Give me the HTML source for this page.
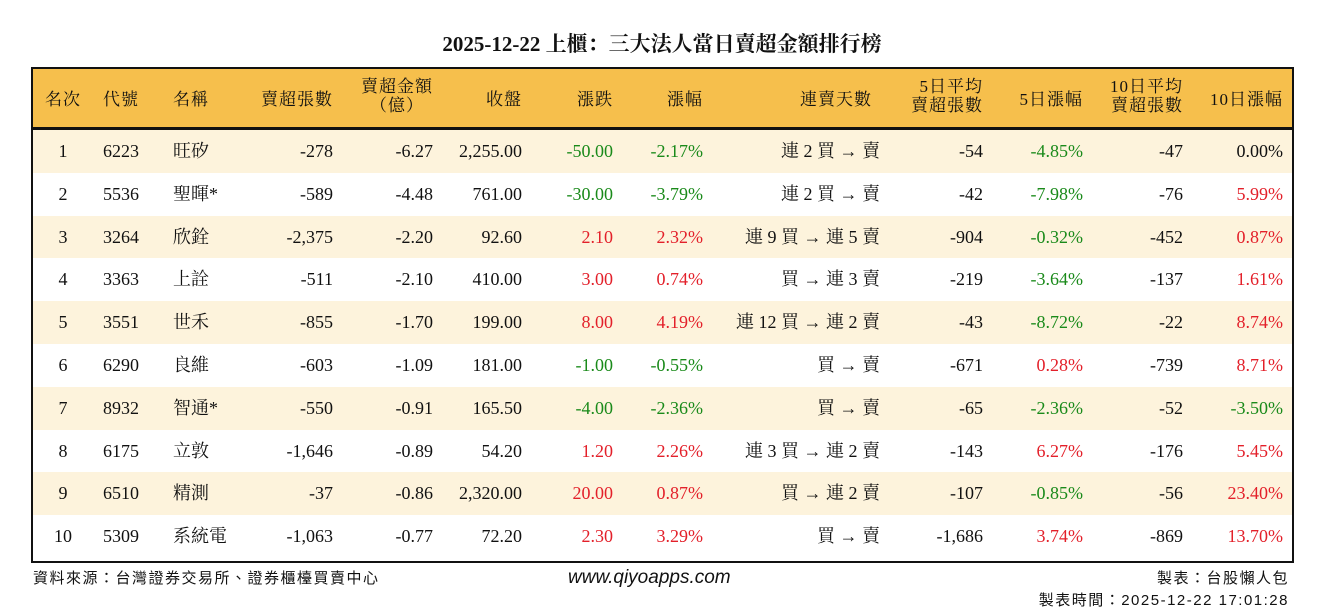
<!DOCTYPE html>
<html><head><meta charset="utf-8"><style>
*{margin:0;padding:0;box-sizing:border-box}
body{width:1324px;height:612px;background:#fff;font-family:"Liberation Serif","Noto Serif CJK SC","Noto Sans CJK TC",serif;color:#111;position:relative;overflow:hidden}
.t{position:absolute;white-space:nowrap}
#title{left:0;width:1324px;top:28px;text-align:center;font-size:21px;font-weight:bold}
#box{position:absolute;left:31px;top:67px;width:1263px;height:496px;border:2px solid #111;overflow:hidden}
#hdr{position:absolute;left:0;top:0;width:1259px;height:61px;background:#f6bf4c;border-bottom:3px solid #111}
.row{position:absolute;left:0;width:1259px;height:43px}
.c{position:absolute;font-size:18px;line-height:43px;white-space:nowrap}
.h{position:absolute;font-size:17px;line-height:19px;white-space:nowrap;text-align:right;letter-spacing:1px}
.g{color:#1a8a1a}.r{color:#e3202a}
.f{font-family:"Liberation Sans","Noto Sans CJK TC",sans-serif;font-size:15px;letter-spacing:1.5px}
</style></head><body>
<div class="t" id="title">2025-12-22 上櫃：三大法人當日賣超金額排行榜</div>
<div id="box">
<div id="hdr">
<div class="h" style="left:12px;top:21px">名次</div>
<div class="h" style="left:70px;top:21px">代號</div>
<div class="h" style="left:140px;top:21px">名稱</div>
<div class="h" style="right:959px;top:21px">賣超張數</div>
<div class="h" style="right:859px;top:8px;text-align:center">賣超金額<br>（億）</div>
<div class="h" style="right:770px;top:21px">收盤</div>
<div class="h" style="right:679px;top:21px">漲跌</div>
<div class="h" style="right:589px;top:21px">漲幅</div>
<div class="h" style="right:420px;top:21px">連賣天數</div>
<div class="h" style="right:309px;top:8px">5日平均<br>賣超張數</div>
<div class="h" style="right:209px;top:21px">5日漲幅</div>
<div class="h" style="right:109px;top:8px">10日平均<br>賣超張數</div>
<div class="h" style="right:9px;top:21px">10日漲幅</div>
</div>
<div id="rows"></div>
</div>
<div class="t f" style="left:33px;top:567px">資料來源：台灣證券交易所、證券櫃檯買賣中心</div>
<div class="t" style="left:568px;top:567px;font-family:'Liberation Sans',sans-serif;font-style:italic;font-size:19px">www.qiyoapps.com</div>
<div class="t f" style="right:35px;top:567px">製表：台股懶人包</div>
<div class="t f" style="right:35px;top:589px">製表時間：2025-12-22 17:01:28</div>
<script>
var d=[
[1,"6223","旺矽","-278","-6.27","2,255.00","-50.00","-2.17%","連 2 買 → 賣","-54","-4.85%","-47","0.00%"],
[2,"5536","聖暉*","-589","-4.48","761.00","-30.00","-3.79%","連 2 買 → 賣","-42","-7.98%","-76","5.99%"],
[3,"3264","欣銓","-2,375","-2.20","92.60","2.10","2.32%","連 9 買 → 連 5 賣","-904","-0.32%","-452","0.87%"],
[4,"3363","上詮","-511","-2.10","410.00","3.00","0.74%","買 → 連 3 賣","-219","-3.64%","-137","1.61%"],
[5,"3551","世禾","-855","-1.70","199.00","8.00","4.19%","連 12 買 → 連 2 賣","-43","-8.72%","-22","8.74%"],
[6,"6290","良維","-603","-1.09","181.00","-1.00","-0.55%","買 → 賣","-671","0.28%","-739","8.71%"],
[7,"8932","智通*","-550","-0.91","165.50","-4.00","-2.36%","買 → 賣","-65","-2.36%","-52","-3.50%"],
[8,"6175","立敦","-1,646","-0.89","54.20","1.20","2.26%","連 3 買 → 連 2 賣","-143","6.27%","-176","5.45%"],
[9,"6510","精測","-37","-0.86","2,320.00","20.00","0.87%","買 → 連 2 賣","-107","-0.85%","-56","23.40%"],
[10,"5309","系統電","-1,063","-0.77","72.20","2.30","3.29%","買 → 賣","-1,686","3.74%","-869","13.70%"]];
function col(v){if(v==="0.00%")return"";return v.charAt(0)==="-"?"g":"r"}
var h="";
d.forEach(function(r,i){
h+='<div class="row" style="top:'+(61+i*42.8)+'px;background:'+(i%2?'#fff':'#fdf3dc')+'">';
h+='<div class="c" style="left:0;width:60px;text-align:center">'+r[0]+'</div>';
h+='<div class="c" style="left:70px">'+r[1]+'</div>';
h+='<div class="c" style="left:140px">'+r[2]+'</div>';
var rs=[[3,959,""],[4,859,""],[5,770,""],[6,679,col(r[6])],[7,589,col(r[7])],[8,412,""],[9,309,""],[10,209,col(r[10])],[11,109,""],[12,9,col(r[12])]];
rs.forEach(function(x){h+='<div class="c '+x[2]+'" style="right:'+x[1]+'px">'+r[x[0]]+'</div>'});
h+='</div>';});
document.getElementById("rows").innerHTML=h;
</script>
</body></html>
